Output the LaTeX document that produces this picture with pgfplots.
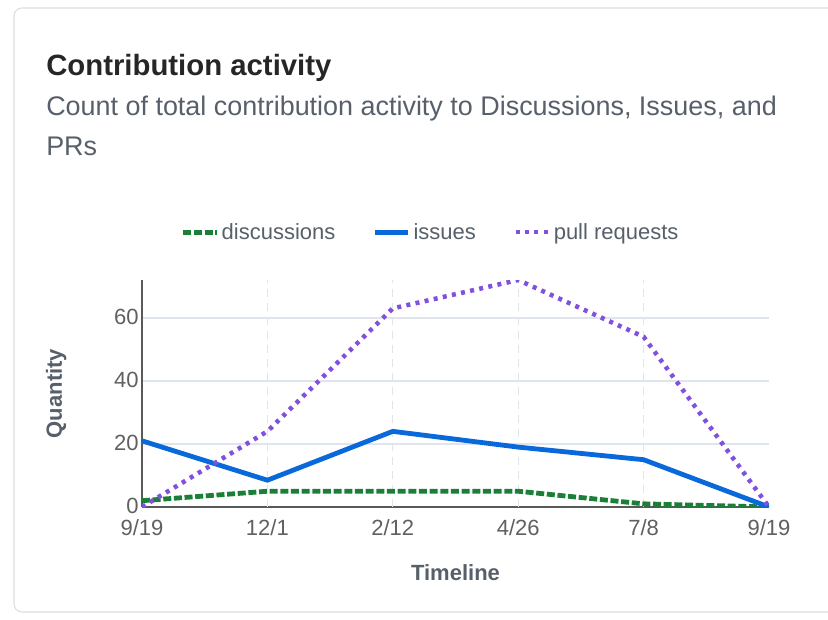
\documentclass[border=0pt]{standalone}
\usepackage{pgfplots}
\pgfplotsset{compat=1.18}
\usepackage{fontspec}
\setmainfont{Liberation Sans}
\definecolor{ghgreen}{HTML}{1A7F37}
\definecolor{ghblue}{HTML}{0969DA}
\definecolor{ghpurple}{HTML}{8250DF}
\definecolor{txtgray}{HTML}{57606A}
\definecolor{tickgray}{HTML}{606060}
\definecolor{gridc}{HTML}{DFE5EC}
\definecolor{cardb}{HTML}{D8DEE4}
\begin{document}
\begin{tikzpicture}
\path[use as bounding box] (0,0) rectangle (621pt,-465pt);
\draw[cardb, line width=0.8pt, rounded corners=6pt] (10.5pt,-459pt) rectangle (640pt,-6pt);
\node[anchor=base west, inner sep=0pt, font=\fontsize{22}{26}\selectfont\bfseries, text=black!85] at (34.5pt,-56.5pt) {Contribution activity};
\node[anchor=base west, inner sep=0pt, font=\fontsize{20.2}{24}\selectfont, text=txtgray] at (34.5pt,-87pt) {Count of total contribution activity to Discussions, Issues, and};
\node[anchor=base west, inner sep=0pt, font=\fontsize{20.2}{24}\selectfont, text=txtgray] at (34.5pt,-117pt) {PRs};
\begin{axis}[
  at={(106.5pt,-380.25pt)}, anchor=south west,
  scale only axis, width=470.25pt, height=170.25pt,
  xmin=0, xmax=5, ymin=0, ymax=72,
  xtick={0,1,2,3,4,5},
  xticklabels={9/19,12/1,2/12,4/26,7/8,9/19},
  ytick={0,20,40,60},
  /pgf/number format/assume math mode=true,
  axis x line*=bottom, axis y line*=left,
  axis line style={draw=black!65, line width=1pt},
  tick style={draw=none},
  ticklabel style={font=\fontsize{16.5}{18}\selectfont, text=tickgray},
  xticklabel style={yshift=-6pt},
  yticklabel style={xshift=1pt, yshift=1pt},
  ymajorgrids,
  grid style={gridc, line width=1.1pt},
  extra x ticks={1,2,3,4}, extra x tick labels={},
  extra x tick style={xmajorgrids=true, ymajorgrids=false,
    grid style={gridc, line width=0.9pt, dash pattern=on 6pt off 4.5pt}},
  xlabel={Timeline}, ylabel={Quantity},
  label style={font=\fontsize{16.5}{18}\selectfont\bfseries, text=txtgray},
  xlabel style={yshift=-15pt},
  ylabel style={yshift=29pt},
  legend columns=3,
  legend style={draw=none, fill=none, at={(0.461,1.211)}, anchor=center,
    font=\fontsize{16.5}{18}\selectfont, text=txtgray,
    /tikz/every even column/.append style={column sep=26pt}},
  legend image code/.code={\draw[#1] (0pt,0pt) -- (25pt,0pt);},
]
\addplot[ghgreen, line width=3.6pt, dash pattern=on 6pt off 2pt] coordinates {(0,2) (1,5) (2,5) (3,5) (4,1) (5,0)};
\addlegendentry{discussions}
\addplot[ghblue, line width=3.6pt] coordinates {(0,21) (1,8.5) (2,24) (3,19) (4,15) (5,0)};
\addlegendentry{issues}
\addplot[ghpurple, line width=3.4pt, dash pattern=on 3pt off 4pt] coordinates {(0,0) (1,24) (2,63) (3,72) (4,54) (5,0)};
\addlegendentry{pull requests}
\end{axis}
\end{tikzpicture}
\end{document}
